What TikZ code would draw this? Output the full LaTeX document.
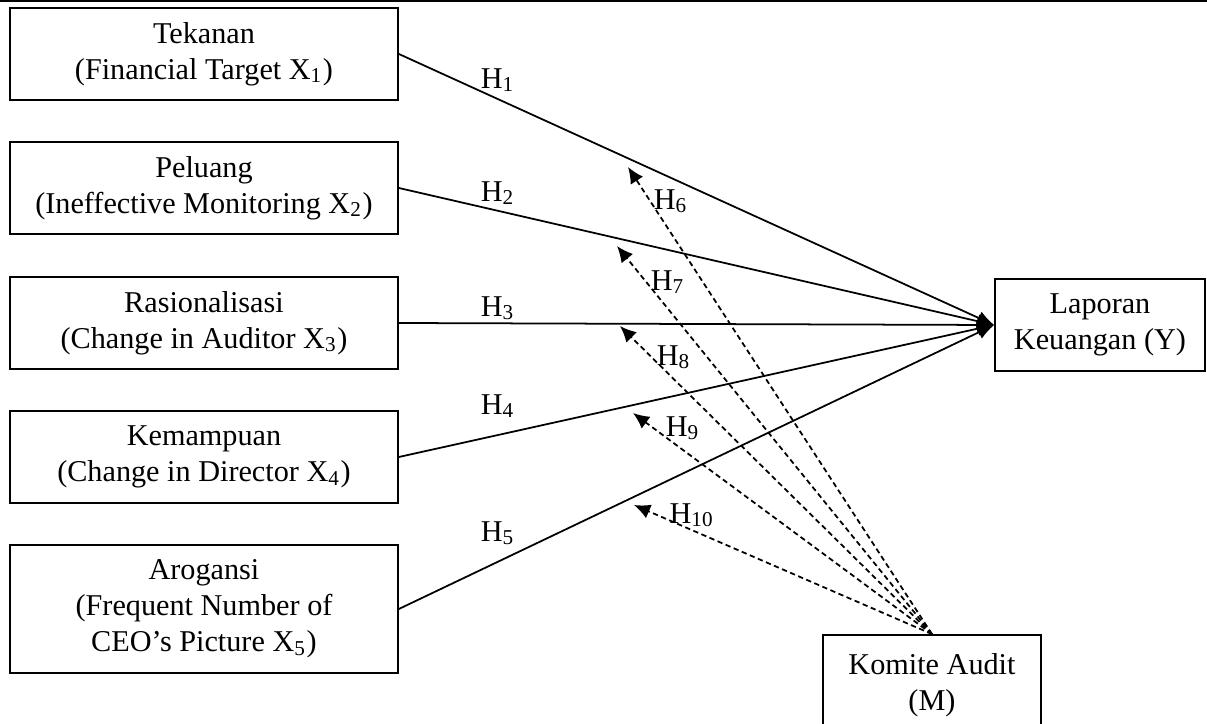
\documentclass[tikz,border=0pt]{standalone}
\usepackage{fontspec}
\setmainfont{Liberation Serif}
\usetikzlibrary{arrows.meta}

\tikzset{
	varbox/.style={draw, line width=0.5pt, align=center, inner sep=0pt,
		minimum width=38.8mm, minimum height=9.2mm,
		font=\fontsize{8.6}{10.2}\selectfont},
	hlabel/.style={font=\fontsize{8.6}{10.2}\selectfont, inner sep=0pt},
	direct/.style={line width=0.5pt, -{Latex[length=4.8pt,width=4pt]}},
	moder/.style={line width=0.5pt, dash pattern=on 1.5pt off 1pt,
		-{Latex[length=4.6pt,width=4.2pt]}}
}

\begin{document}
\begin{tikzpicture}[x=0.1mm, y=-0.1mm]
		\useasboundingbox (0,0) rectangle (1207,724);
		\clip (0,0) rectangle (1207,724);
		\draw[line width=0.8pt] (0,1) -- (1207,1);
		
		% variables
		\node[varbox] (x1) at (204,54) {Tekanan\\(Financial Target X\textsubscript{1})};
		\node[varbox] (x2) at (204,188) {Peluang\\(Ineffective Monitoring X\textsubscript{2})};
		\node[varbox] (x3) at (204,323) {Rasionalisasi\\(Change in Auditor X\textsubscript{3})};
		\node[varbox] (x4) at (204,457) {Kemampuan\\(Change in Director X\textsubscript{4})};
		\node[varbox, minimum height=12.8mm] (x5) at (204,609) {Arogansi\\(Frequent Number of\\CEO's Picture X\textsubscript{5})};
		\node[varbox, minimum width=21mm] (y) at (1100,325) {Laporan\\Keuangan (Y)};
		\node[varbox, minimum width=21.8mm, minimum height=10mm] (m) at (932,685) {Komite Audit\\(M)};
		
		% direct effects
		\foreach \i in {1,...,5}
			\draw[direct] (x\i.east) -- (y.west);
		\node[hlabel] (h1) at (498,80) {H\textsubscript{1}};
		\node[hlabel] (h2) at (498,193) {H\textsubscript{2}};
		\node[hlabel] (h3) at (498,308) {H\textsubscript{3}};
		\node[hlabel] (h4) at (498,406) {H\textsubscript{4}};
		\node[hlabel] (h5) at (498,533) {H\textsubscript{5}};
		
		% moderation
		\coordinate (t6) at (628,167);
		\coordinate (t7) at (617,246);
		\coordinate (t8) at (620,326);
		\coordinate (t9) at (633,413);
		\coordinate (t10) at (634,505);
		\foreach \i in {6,...,10}
			\draw[moder] (m.north) -- (t\i);
		\node[hlabel] (h6) at (671,201) {H\textsubscript{6}};
		\node[hlabel] (h7) at (668,282) {H\textsubscript{7}};
		\node[hlabel] (h8) at (674,357) {H\textsubscript{8}};
		\node[hlabel] (h9) at (683,428) {H\textsubscript{9}};
		\node[hlabel] (h10) at (692,515) {H\textsubscript{10}};
\end{tikzpicture}
\end{document}
